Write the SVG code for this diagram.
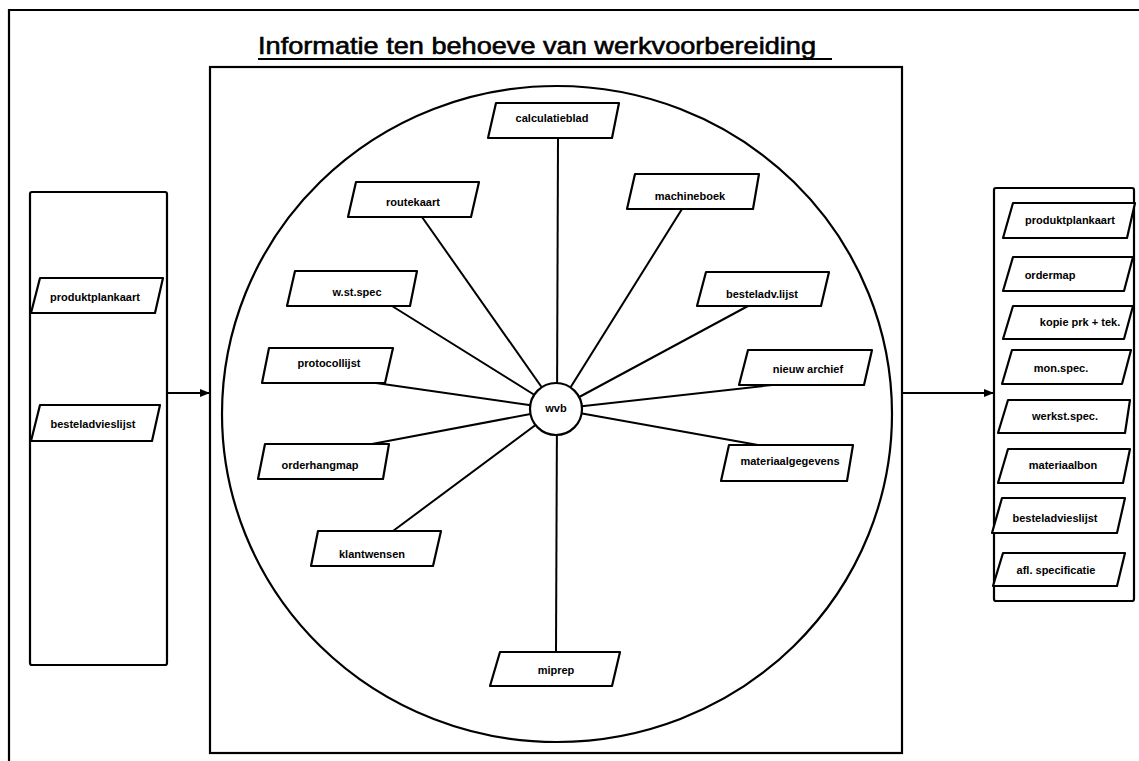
<svg xmlns="http://www.w3.org/2000/svg" width="1139" height="761" viewBox="0 0 1139 761">
  <style>
    .frame { fill: none; stroke: #000; stroke-width: 2.2; }
    .box { fill: #fff; stroke: #000; stroke-width: 2.2; stroke-linejoin: round; }
    .ray { stroke: #000; stroke-width: 2; fill: none; }
    .lbl { font-family: "Liberation Sans", Arial, sans-serif; font-weight: bold; font-size: 11px; fill: #000; text-anchor: middle; dominant-baseline: central; }
    .title { font-family: "Liberation Sans", Arial, sans-serif; font-size: 24px; fill: #000; stroke: #000; stroke-width: 0.6; }
  </style>
  <defs>
    <marker id="arrow" viewBox="0 0 10 10" refX="10" refY="5" markerWidth="5" markerHeight="5" orient="auto" markerUnits="strokeWidth">
      <path d="M0,1 L10,5 L0,9 z" fill="#000"/>
    </marker>
  </defs>

  <rect width="1139" height="761" fill="#fff"/>

  <!-- page border (top and left) -->
  <polyline class="frame" points="9,761 9,10 1139,10"/>

  <!-- heading -->
  <g id="title">
    <text class="title" x="258" y="54" textLength="558" lengthAdjust="spacingAndGlyphs">Informatie ten behoeve van werkvoorbereiding</text>
    <line x1="258" y1="59" x2="832" y2="59" stroke="#000" stroke-width="2.2"/>
  </g>

  <!-- containers -->
  <g id="input-panel">
    <rect class="frame" x="30" y="192" width="137" height="473" rx="2"/>
  </g>
  <g id="wvb-panel">
    <rect class="frame" x="210" y="67" width="692" height="686"/>
    <ellipse class="frame" cx="557" cy="414" rx="335" ry="328"/>
  </g>
  <g id="output-panel">
    <rect class="frame" x="994" y="188" width="140" height="413" rx="2"/>
  </g>

  <!-- connectors -->
  <g id="connectors">
    <line class="ray" x1="167" y1="393" x2="210" y2="393" marker-end="url(#arrow)"/>
    <line class="ray" x1="902" y1="393" x2="994" y2="393" marker-end="url(#arrow)"/>
    <line class="ray" x1="558" y1="138" x2="557" y2="409"/>
    <line class="ray" x1="422" y1="217" x2="557" y2="409"/>
    <line class="ray" x1="682" y1="209" x2="557" y2="409"/>
    <line class="ray" x1="392" y1="306" x2="557" y2="409"/>
    <line class="ray" x1="748" y1="306" x2="557" y2="409"/>
    <line class="ray" x1="376" y1="383" x2="557" y2="409"/>
    <line class="ray" x1="772" y1="385" x2="557" y2="409"/>
    <line class="ray" x1="372" y1="444" x2="557" y2="409"/>
    <line class="ray" x1="758" y1="445" x2="557" y2="409"/>
    <line class="ray" x1="393" y1="531" x2="557" y2="409"/>
    <line class="ray" x1="556" y1="652" x2="557" y2="409"/>
  </g>

  <!-- hub -->
  <g id="wvb">
    <ellipse class="box" cx="556" cy="409" rx="26" ry="26"/>
    <text class="lbl" x="556" y="408">wvb</text>
  </g>

  <!-- documents around the hub -->
  <g id="calculatieblad">
    <polygon class="box" points="496,103 619,103 612,138 488,138"/>
    <text class="lbl" x="552" y="118">calculatieblad</text>
  </g>
  <g id="routekaart">
    <polygon class="box" points="356,182 479,182 471,217 348,217"/>
    <text class="lbl" x="413" y="202">routekaart</text>
  </g>
  <g id="machineboek">
    <polygon class="box" points="635,174 759,174 753,209 627,209"/>
    <text class="lbl" x="690" y="196">machineboek</text>
  </g>
  <g id="w-st-spec">
    <polygon class="box" points="295,271 417,271 410,306 287,306"/>
    <text class="lbl" x="357" y="292">w.st.spec</text>
  </g>
  <g id="besteladv-lijst">
    <polygon class="box" points="706,272 829,272 821,306 697,306"/>
    <text class="lbl" x="762" y="294">besteladv.lijst</text>
  </g>
  <g id="protocollijst">
    <polygon class="box" points="269,348 393,348 385,383 262,383"/>
    <text class="lbl" x="329" y="363">protocollijst</text>
  </g>
  <g id="nieuw-archief">
    <polygon class="box" points="748,350 872,350 864,385 739,385"/>
    <text class="lbl" x="808" y="369">nieuw archief</text>
  </g>
  <g id="orderhangmap">
    <polygon class="box" points="265,444 389,444 383,479 258,479"/>
    <text class="lbl" x="320" y="465">orderhangmap</text>
  </g>
  <g id="materiaalgegevens">
    <polygon class="box" points="729,445 853,445 847,481 721,481"/>
    <text class="lbl" x="790" y="461">materiaalgegevens</text>
  </g>
  <g id="klantwensen">
    <polygon class="box" points="318,531 441,531 433,566 311,566"/>
    <text class="lbl" x="372" y="554">klantwensen</text>
  </g>
  <g id="miprep">
    <polygon class="box" points="500,652 620,652 612,686 490,686"/>
    <text class="lbl" x="556" y="670">miprep</text>
  </g>

  <!-- incoming documents -->
  <g id="in-produktplankaart">
    <polygon class="box" points="40,278 163,278 155,313 31,313"/>
    <text class="lbl" x="95" y="297">produktplankaart</text>
  </g>
  <g id="in-besteladvieslijst">
    <polygon class="box" points="40,405 160,405 152,441 31,441"/>
    <text class="lbl" x="93" y="424">besteladvieslijst</text>
  </g>

  <!-- outgoing documents -->
  <g id="out-produktplankaart">
    <polygon class="box" points="1013,203 1135,203 1127,238 1003,238"/>
    <text class="lbl" x="1070" y="220">produktplankaart</text>
  </g>
  <g id="out-ordermap">
    <polygon class="box" points="1013,257 1133,257 1124,291 1003,291"/>
    <text class="lbl" x="1050" y="275">ordermap</text>
  </g>
  <g id="out-kopie">
    <polygon class="box" points="1013,306 1133,306 1124,339 1003,339"/>
    <text class="lbl" x="1080" y="322">kopie prk  +  tek.</text>
  </g>
  <g id="out-mon-spec">
    <polygon class="box" points="1012,350 1131,350 1122,384 1002,384"/>
    <text class="lbl" x="1061" y="368">mon.spec.</text>
  </g>
  <g id="out-werkst-spec">
    <polygon class="box" points="1008,400 1130,400 1125,433 998,433"/>
    <text class="lbl" x="1065" y="416">werkst.spec.</text>
  </g>
  <g id="out-materiaalbon">
    <polygon class="box" points="1008,449 1130,449 1123,483 998,483"/>
    <text class="lbl" x="1063" y="465">materiaalbon</text>
  </g>
  <g id="out-besteladvieslijst">
    <polygon class="box" points="1002,498 1125,498 1117,533 992,533"/>
    <text class="lbl" x="1055" y="518">besteladvieslijst</text>
  </g>
  <g id="out-afl-specificatie">
    <polygon class="box" points="1003,553 1125,553 1117,586 993,586"/>
    <text class="lbl" x="1056" y="570">afl. specificatie</text>
  </g>
</svg>
